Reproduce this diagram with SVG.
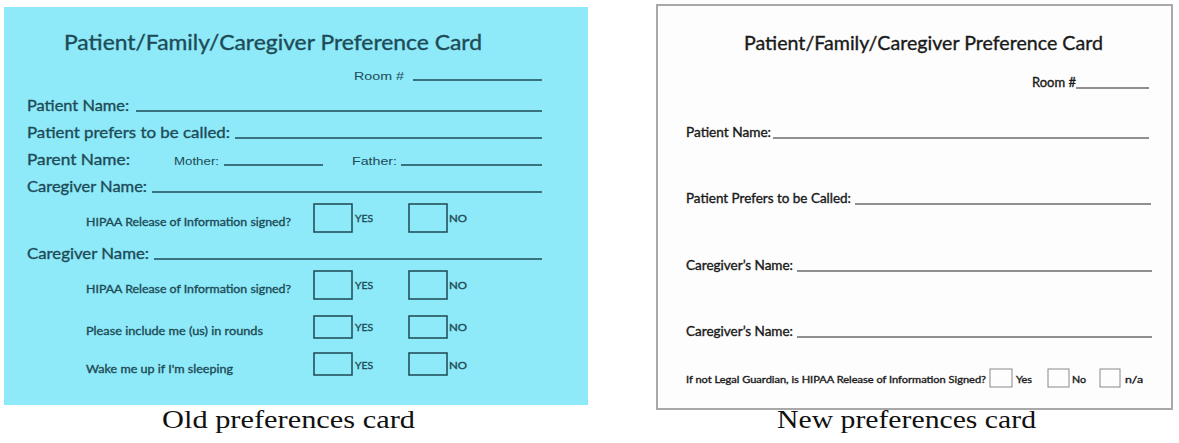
<svg xmlns="http://www.w3.org/2000/svg" width="1179" height="443" viewBox="0 0 1179 443">
<style>
.o{font-family:Lato,"Noto Sans","Open Sans",sans-serif;fill:#1d4b57;stroke:#1d4b57;stroke-width:0.35}
.oa{font-family:"Liberation Sans",Arial,sans-serif;fill:#1d4b57;font-size:11px}
.ol{stroke:#1d4b57;stroke-width:1.7}
.ob{fill:none;stroke:#24525d;stroke-width:1.6}
.n{font-family:Lato,"Open Sans","Noto Sans",sans-serif;fill:#1a1a1a;stroke:#1a1a1a;stroke-width:0.35}
.nl{stroke:#222;stroke-width:1.2}
.nb{fill:none;stroke:#8a8a8a;stroke-width:1}
.cap{font-family:"Liberation Serif","Times New Roman",serif;font-size:25px;fill:#111}
</style>
<rect width="1179" height="443" fill="#ffffff"/>
<g id="old-card">
<rect x="4" y="7" width="584" height="398" fill="#8ee9f8"/>
<text class="o" x="64" y="50" font-size="21" textLength="418" lengthAdjust="spacingAndGlyphs">Patient/Family/Caregiver Preference Card</text>
<text class="oa" x="354" y="80" textLength="50" lengthAdjust="spacingAndGlyphs">Room #</text>
<line class="ol" x1="413" y1="80" x2="542" y2="80"/>
<text class="o" x="27" y="111" font-size="16" textLength="102" lengthAdjust="spacingAndGlyphs">Patient Name:</text>
<line class="ol" x1="136" y1="111" x2="542" y2="111"/>
<text class="o" x="27" y="138" font-size="16" textLength="203" lengthAdjust="spacingAndGlyphs">Patient prefers to be called:</text>
<line class="ol" x1="235" y1="138" x2="542" y2="138"/>
<text class="o" x="27" y="165" font-size="16" textLength="103" lengthAdjust="spacingAndGlyphs">Parent Name:</text>
<text class="oa" x="174" y="165" textLength="45" lengthAdjust="spacingAndGlyphs">Mother:</text>
<line class="ol" x1="224" y1="165" x2="323" y2="165"/>
<text class="oa" x="352" y="165" textLength="45" lengthAdjust="spacingAndGlyphs">Father:</text>
<line class="ol" x1="401" y1="165" x2="542" y2="165"/>
<text class="o" x="27" y="192" font-size="16" textLength="120" lengthAdjust="spacingAndGlyphs">Caregiver Name:</text>
<line class="ol" x1="152" y1="192" x2="542" y2="192"/>
<text class="o" x="86" y="226" font-size="11.5" textLength="205" lengthAdjust="spacingAndGlyphs">HIPAA Release of Information signed?</text>
<rect class="ob" x="314" y="204" width="38" height="28"/>
<text class="o" x="355" y="222" font-size="10" textLength="18" lengthAdjust="spacingAndGlyphs">YES</text>
<rect class="ob" x="409" y="204" width="38" height="28"/>
<text class="o" x="449" y="222" font-size="10" textLength="18" lengthAdjust="spacingAndGlyphs">NO</text>
<text class="o" x="27" y="259" font-size="16" textLength="122" lengthAdjust="spacingAndGlyphs">Caregiver Name:</text>
<line class="ol" x1="154" y1="259" x2="542" y2="259"/>
<text class="o" x="86" y="293" font-size="11.5" textLength="205" lengthAdjust="spacingAndGlyphs">HIPAA Release of Information signed?</text>
<rect class="ob" x="314" y="271" width="38" height="28"/>
<text class="o" x="355" y="289" font-size="10" textLength="18" lengthAdjust="spacingAndGlyphs">YES</text>
<rect class="ob" x="409" y="271" width="38" height="28"/>
<text class="o" x="449" y="289" font-size="10" textLength="18" lengthAdjust="spacingAndGlyphs">NO</text>
<text class="o" x="86" y="335" font-size="11.5" textLength="177" lengthAdjust="spacingAndGlyphs">Please include me (us) in rounds</text>
<rect class="ob" x="314" y="316" width="38" height="22"/>
<text class="o" x="355" y="331" font-size="10" textLength="18" lengthAdjust="spacingAndGlyphs">YES</text>
<rect class="ob" x="409" y="316" width="38" height="22"/>
<text class="o" x="449" y="331" font-size="10" textLength="18" lengthAdjust="spacingAndGlyphs">NO</text>
<text class="o" x="86" y="373" font-size="11.5" textLength="147" lengthAdjust="spacingAndGlyphs">Wake me up if I'm sleeping</text>
<rect class="ob" x="314" y="353" width="38" height="22"/>
<text class="o" x="355" y="369" font-size="10" textLength="18" lengthAdjust="spacingAndGlyphs">YES</text>
<rect class="ob" x="409" y="353" width="38" height="22"/>
<text class="o" x="449" y="369" font-size="10" textLength="18" lengthAdjust="spacingAndGlyphs">NO</text>
</g>
<g id="new-card">
<rect x="657" y="5" width="515" height="404" fill="#fdfdfd" stroke="#a8a8a8" stroke-width="2"/>
<text class="n" x="744" y="50" font-size="19" textLength="359" lengthAdjust="spacingAndGlyphs">Patient/Family/Caregiver Preference Card</text>
<text class="n" x="1032" y="87" font-size="12.5" textLength="44" lengthAdjust="spacingAndGlyphs">Room #</text>
<line class="nl" x1="1076" y1="88" x2="1149" y2="88"/>
<text class="n" x="686" y="137" font-size="12.5" textLength="85" lengthAdjust="spacingAndGlyphs">Patient Name:</text>
<line class="nl" x1="773" y1="138" x2="1149" y2="138"/>
<text class="n" x="686" y="203" font-size="12.5" textLength="165" lengthAdjust="spacingAndGlyphs">Patient Prefers to be Called:</text>
<line class="nl" x1="855" y1="204" x2="1151" y2="204"/>
<text class="n" x="686" y="270" font-size="12.5" textLength="107" lengthAdjust="spacingAndGlyphs">Caregiver’s Name:</text>
<line class="nl" x1="797" y1="271" x2="1152" y2="271"/>
<text class="n" x="686" y="336" font-size="12.5" textLength="107" lengthAdjust="spacingAndGlyphs">Caregiver’s Name:</text>
<line class="nl" x1="797" y1="337" x2="1152" y2="337"/>
<text class="n" x="686" y="383" font-size="9.5" textLength="300" lengthAdjust="spacingAndGlyphs">If not Legal Guardian, is HIPAA Release of Information Signed?</text>
<rect class="nb" x="990" y="369" width="22" height="18"/>
<text class="n" x="1016" y="383" font-size="9.5" textLength="16" lengthAdjust="spacingAndGlyphs">Yes</text>
<rect class="nb" x="1048" y="369" width="21" height="18"/>
<text class="n" x="1072" y="383" font-size="9.5" textLength="14" lengthAdjust="spacingAndGlyphs">No</text>
<rect class="nb" x="1100" y="369" width="20" height="18"/>
<text class="n" x="1125" y="383" font-size="9.5" textLength="18" lengthAdjust="spacingAndGlyphs">n/a</text>
</g>
<g id="captions">
<text class="cap" x="162" y="428" textLength="253" lengthAdjust="spacingAndGlyphs">Old preferences card</text>
<text class="cap" x="777" y="428" textLength="259" lengthAdjust="spacingAndGlyphs">New preferences card</text>
</g>
</svg>
